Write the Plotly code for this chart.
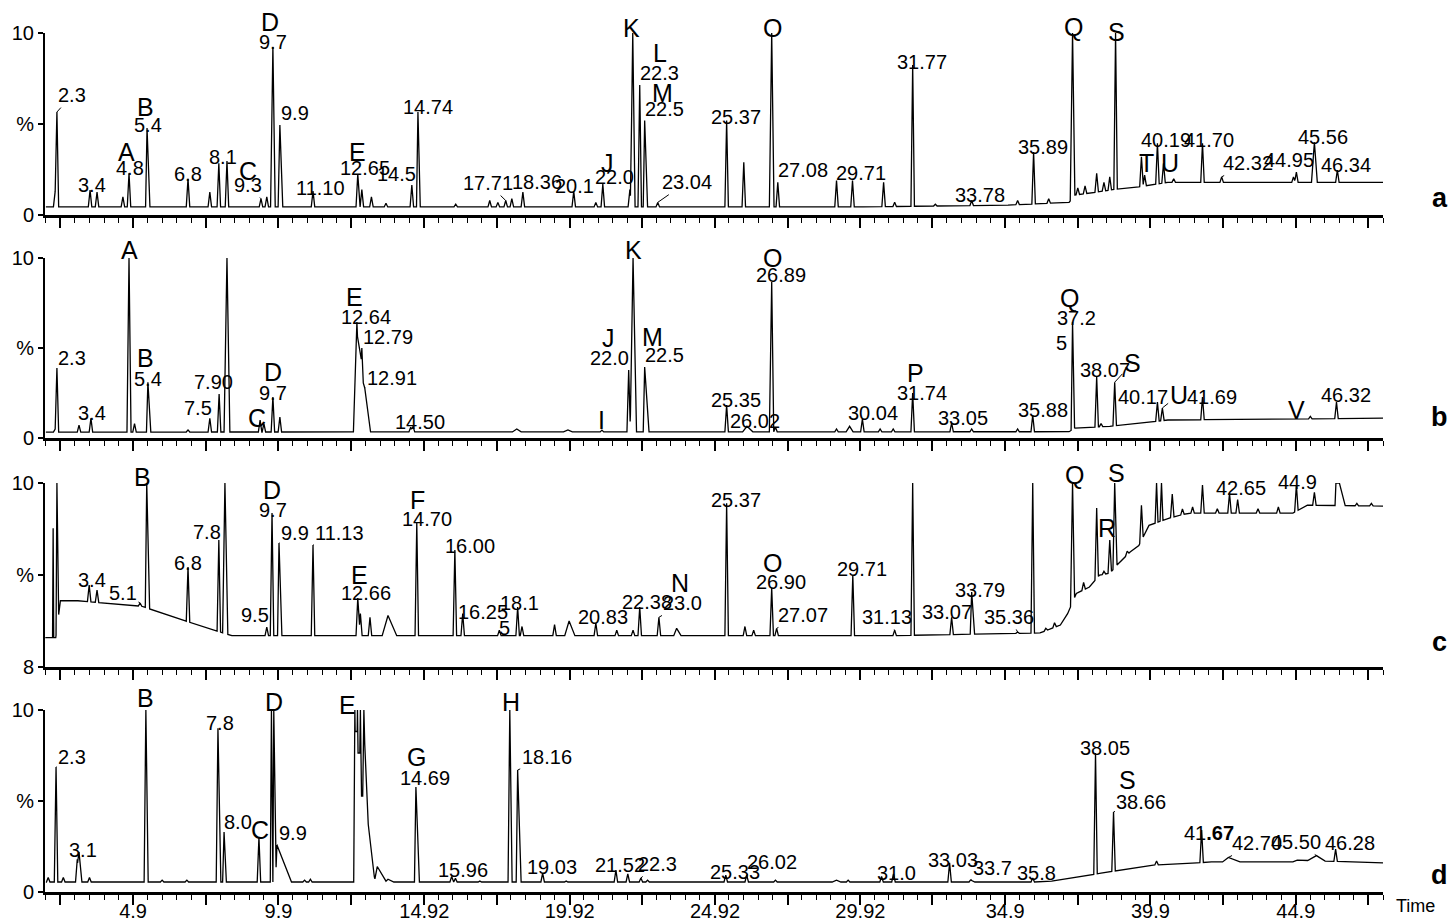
import numpy as np
import plotly.graph_objects as go

# ---------------- data (retention time in min, relative intensity in %) ----------------
TICK_VALS = [2.4, 4.9, 7.4, 9.9, 12.4, 14.92, 17.42, 19.92, 22.42, 24.92, 27.42, 29.92,
             32.4, 34.9, 37.4, 39.9, 42.4, 44.9, 47.4]
TICK_TEXT = ["", "4.9", "", "9.9", "", "14.92", "", "19.92", "", "24.92", "", "29.92",
             "", "34.9", "", "39.9", "", "44.9", ""]
PANELS = ["a", "b", "c", "d"]
Y_TICK_TEXT = {"a": ["0", "%", "10"], "b": ["0", "%", "10"], "c": ["8", "%", "10"], "d": ["0", "%", "10"]}

# baseline anchors (time, level)
BASE_A = [(1.9, 4.5), (30.0, 4.5), (35.0, 5.5), (37.1, 7.0), (37.3, 11.0), (38.0, 12.5),
          (38.6, 14.0), (39.5, 15.5), (40.5, 18.0), (47.9, 18.0)]
BASE_B = [(1.9, 3.3), (37.1, 3.5), (37.3, 5.5), (38.5, 6.5), (40.5, 10.0), (47.9, 11.0)]
BASE_C = [(1.88, 16.0), (2.24, 16.0), (2.4, 36.0), (3.0, 36.0), (5.2, 33.0), (6.7, 25.0),
          (8.3, 17.0), (31.0, 17.0), (36.1, 18.5), (36.8, 22.8), (37.05, 29.0), (37.35, 40.0),
          (37.8, 43.5), (38.15, 50.0), (38.5, 51.0), (38.84, 57.0), (39.2, 62.5), (39.5, 66.0),
          (39.85, 77.0), (40.55, 81.0), (41.2, 83.7), (44.8, 83.7), (45.3, 88.0), (47.9, 87.5)]
BASE_D = [(1.9, 5.5), (35.9, 5.5), (36.5, 6.0), (37.2, 7.7), (37.9, 9.5), (38.2, 10.4),
          (40.0, 14.8), (41.5, 16.0), (42.0, 16.5), (44.8, 16.5), (44.95, 17.5), (47.9, 16.0)]

# peaks (time, apex, [left half-width, right half-width])
PEAKS_A = [(2.22, 13), (2.28, 56.6), (3.42, 13.7), (3.66, 12.6), (4.55, 10), (4.76, 23),
           (5.38, 47.8, 0.05, 0.1), (6.79, 20), (7.54, 12.6), (7.85, 28.5), (8.13, 29.7),
           (9.3, 9), (9.5, 10), (9.71, 92.3, 0.08, 0.08), (9.95, 49.5, 0.06, 0.1), (11.09, 13.2),
           (12.63, 22.5), (12.77, 14), (13.1, 10), (13.6, 6.5), (14.49, 16.5),
           (14.70, 56.6, 0.05, 0.08), (16.0, 6), (17.17, 8), (17.45, 7), (17.72, 8), (17.93, 9),
           (18.31, 12.6), (20.06, 13), (20.82, 7), (21.06, 17), (21.99, 13.7),
           (22.09, 100, 0.08, 0.08), (22.33, 71.4), (22.5, 52, 0.05, 0.1), (22.95, 7),
           (25.32, 52), (25.91, 29), (26.87, 100, 0.08, 0.08), (27.08, 18), (29.1, 19),
           (29.65, 19), (30.72, 18), (31.1, 7), (31.72, 82.4), (32.5, 6), (33.75, 8), (35.33, 8),
           (35.88, 34.6), (36.4, 9), (37.22, 100, 0.08, 0.08), (37.4, 15), (37.65, 16),
           (38.05, 23), (38.3, 18), (38.5, 21), (38.7, 100, 0.06, 0.06), (39.59, 32), (39.7, 22),
           (40.14, 39.5), (40.35, 28.5), (40.7, 20), (41.69, 39.5), (42.35, 21), (44.82, 21),
           (44.92, 23.6), (45.54, 40, 0.1, 0.1), (46.33, 24.7)]
PEAKS_B = [(2.22, 5), (2.28, 38.9), (3.04, 7.2), (3.45, 11), (4.76, 100, 0.07, 0.07), (4.95, 8),
           (5.41, 31, 0.05, 0.1), (6.79, 4.5), (7.54, 11), (7.86, 24.4), (8.13, 100, 0.1, 0.1),
           (9.27, 10), (9.4, 8), (9.71, 22.8), (9.95, 11.7), (12.6, 64.5, 0.12, 0.15),
           (12.77, 50, 0.15, 0.12), (12.87, 27.8, 0.05, 0.2), (14.45, 6), (14.53, 6.5),
           (18.1, 5, 0.15, 0.15), (19.86, 4.5, 0.15, 0.15), (21.03, 4.4), (21.95, 37.8),
           (22.1, 100, 0.1, 0.12), (22.5, 39.4, 0.05, 0.15), (25.32, 18.3), (26.02, 6.5, 0.15, 0.2),
           (26.87, 86.7, 0.08, 0.06), (27.0, 6), (29.1, 5), (29.55, 6.5, 0.12, 0.12),
           (29.99, 10.5), (30.6, 5), (31.05, 5), (31.72, 25), (33.06, 8.3), (33.75, 5),
           (35.33, 5), (35.85, 12.8), (37.22, 64.5, 0.05, 0.07), (38.05, 34), (38.2, 8),
           (38.67, 31), (40.14, 20), (40.31, 16.7), (41.69, 22.8), (45.4, 12), (46.3, 20)]
PEAKS_C = [(2.15, 75.5, 0.02, 0.02), (2.28, 100, 0.03, 0.06), (3.39, 44.6), (3.66, 41.8),
           (5.14, 34.8), (5.37, 100, 0.05, 0.1), (6.79, 54.3), (7.85, 69), (8.06, 100, 0.08, 0.1),
           (9.5, 21.7), (9.68, 83.7), (9.92, 67.4, 0.05, 0.1), (11.09, 66.3), (12.63, 37.5),
           (12.72, 29), (13.05, 27), (13.67, 28, 0.2, 0.3), (14.66, 78.3), (15.97, 63.6),
           (16.24, 29), (17.5, 20), (18.13, 32.6), (18.28, 22), (19.4, 23), (19.9, 25, 0.15, 0.2),
           (20.82, 23.9), (21.54, 20), (22.1, 20), (22.33, 32.6), (22.99, 27), (23.6, 21, 0.1, 0.15),
           (25.32, 89), (25.95, 22), (26.25, 20), (26.87, 43), (27.04, 21), (29.66, 50),
           (31.1, 20), (31.72, 100, 0.06, 0.06), (33.06, 27), (33.75, 40.8, 0.05, 0.1),
           (35.33, 19), (35.85, 100, 0.06, 0.06), (36.3, 21), (36.6, 24), (37.22, 100, 0.07, 0.07),
           (37.6, 46), (38.05, 86.4), (38.3, 52), (38.5, 69), (38.67, 100, 0.06, 0.08),
           (39.1, 63), (39.59, 88), (40.11, 100, 0.05, 0.05), (40.28, 100, 0.05, 0.05),
           (40.65, 94), (41.0, 86), (41.35, 87), (41.69, 99), (42.2, 86), (42.62, 94.5),
           (42.9, 91), (43.6, 86), (44.3, 87), (44.92, 99), (45.54, 95), (46.28, 100, 0.03, 0.15),
           (46.4, 100, 0.12, 0.2), (47.0, 89), (47.5, 89)]
PEAKS_D = [(1.98, 8), (2.25, 68.7), (2.5, 8), (2.98, 18), (3.04, 22, 0.05, 0.1), (3.4, 8),
           (5.34, 100, 0.06, 0.08), (5.9, 6.5), (6.75, 6.5), (7.82, 90, 0.06, 0.1),
           (8.03, 33, 0.05, 0.08), (9.23, 30, 0.06, 0.06), (9.66, 100, 0.04, 0.03),
           (9.74, 100, 0.03, 0.08), (9.85, 25.8, 0.05, 0.5), (10.8, 6.5), (11.0, 7),
           (12.53, 100, 0.04, 0.08), (12.62, 100, 0.08, 0.08), (12.72, 100, 0.08, 0.08),
           (12.84, 100, 0.08, 0.15), (12.97, 40, 0.1, 0.25), (13.3, 14, 0.1, 0.3),
           (13.67, 7, 0.1, 0.2), (14.63, 57.7, 0.05, 0.12), (15.86, 8.5), (15.99, 7.5),
           (16.83, 6), (17.86, 100, 0.06, 0.08), (18.13, 67, 0.05, 0.12), (18.99, 10.4),
           (19.8, 6), (21.51, 12), (21.92, 10), (22.37, 7.7), (22.6, 6.5), (25.29, 9.3),
           (26.01, 9.3), (27.0, 6.5), (29.1, 6.5, 0.15, 0.15), (29.5, 6.5), (30.65, 8.5),
           (31.06, 10), (32.99, 16), (33.71, 6.6, 0.05, 0.15), (35.85, 7.7), (38.01, 76.4),
           (38.63, 44), (40.11, 17), (41.66, 34), (42.58, 19, 0.2, 0.4), (45.61, 20, 0.3, 0.3),
           (46.27, 23.6)]

# peak labels: (text, label time, label level[, leader-to time, leader-to level])
LABELS_A = [("2.3", 2.8, 65.9, 2.28, 56.6), ("3.4", 3.49, 16.5), ("A", 4.69, 34.6), ("4.8", 4.79, 25.8),
            ("B", 5.34, 59.3), ("5.4", 5.41, 49.5), ("6.8", 6.79, 22.5), ("8.1", 7.99, 31.9),
            ("C", 8.85, 24.2), ("9.3", 8.85, 16.5, 9.3, 9), ("D", 9.61, 106), ("9.7", 9.71, 95),
            ("9.9", 10.47, 56, 9.95, 49.5), ("11.10", 11.36, 14.8), ("E", 12.63, 34.6),
            ("12.65", 12.87, 25.8), ("14.5", 13.97, 22.5, 14.49, 16.5), ("14.74", 15.04, 59.3),
            ("17.71", 17.1, 17.6, 17.72, 8), ("18.36", 18.79, 18.1), ("20.1", 20.1, 16),
            ("J", 21.23, 28.6), ("22.0", 21.47, 20.9, 21.99, 13.7), ("K", 22.06, 103),
            ("L", 23.02, 89), ("22.3", 23.02, 78, 22.33, 71.4), ("M", 23.12, 67),
            ("22.5", 23.19, 58.2, 22.5, 52), ("23.04", 23.95, 18.1, 22.95, 7), ("25.37", 25.63, 53.8),
            ("O", 26.9, 102.7), ("27.08", 27.94, 24.7, 27.08, 18), ("29.71", 29.93, 23),
            ("31.77", 32.03, 84), ("33.78", 34.02, 11), ("35.89", 36.19, 37.4), ("Q", 37.25, 103.3),
            ("S", 38.73, 100.5), ("T", 39.76, 28.6), ("U", 40.56, 28.6), ("40.19", 40.45, 41.2),
            ("41.70", 41.93, 41.2), ("42.32", 43.24, 28.6, 42.35, 21), ("44.95", 44.68, 30.2, 44.92, 23.6),
            ("45.56", 45.85, 42.9), ("46.34", 46.64, 27.5)]
LABELS_B = [("2.3", 2.8, 44.4, 2.28, 38.9), ("3.4", 3.49, 13.9), ("A", 4.76, 104.4), ("B", 5.34, 44.4),
            ("5.4", 5.41, 32.8), ("7.5", 7.13, 16.7, 7.54, 11), ("7.90", 7.65, 31.1), ("C", 9.16, 11.1),
            ("D", 9.71, 36.7), ("9.7", 9.71, 25), ("E", 12.53, 78.3), ("12.64", 12.91, 67.2),
            ("12.79", 13.67, 56.1, 12.77, 50), ("12.91", 13.8, 33.3, 12.87, 27.8), ("14.50", 14.77, 8.9),
            ("I", 21.02, 10), ("J", 21.26, 55.6), ("22.0", 21.3, 44.4, 21.95, 37.8), ("K", 22.12, 104.4),
            ("M", 22.78, 56.1), ("22.5", 23.19, 46.1, 22.5, 39.4), ("25.35", 25.63, 21.1),
            ("26.02", 26.28, 9.4), ("O", 26.9, 100), ("26.89", 27.18, 90.6), ("30.04", 30.34, 13.9),
            ("P", 31.82, 36.1), ("31.74", 32.03, 25), ("33.05", 33.44, 11.1), ("35.88", 36.19, 15.6),
            ("Q", 37.12, 77.8), ("37.2", 37.36, 66.7), ("5", 36.84, 52.8), ("38.07", 38.32, 37.8),
            ("S", 39.28, 41.7, 38.67, 31), ("40.17", 39.66, 22.8), ("U", 40.87, 23.9, 40.31, 16.7),
            ("41.69", 42.0, 22.8), ("V", 44.92, 15.6), ("46.32", 46.61, 23.9)]
LABELS_C = [("3.4", 3.49, 47.3), ("5.1", 4.55, 40.2, 5.14, 34.8), ("B", 5.24, 103.3), ("6.8", 6.79, 56.5),
            ("7.8", 7.44, 73.4), ("9.5", 9.09, 28.3, 9.5, 21.7), ("D", 9.68, 96.2), ("9.7", 9.71, 85.3),
            ("9.9", 10.47, 72.8, 9.92, 67.4), ("11.13", 12.01, 72.8, 11.09, 66.3), ("E", 12.7, 50),
            ("12.66", 12.91, 40.2), ("F", 14.7, 90.8), ("14.70", 15.01, 80.4), ("16.00", 16.49, 65.8),
            ("16.25", 16.93, 29.9, 16.24, 29), ("18.1", 18.2, 34.8), ("5", 17.69, 21.2),
            ("20.83", 21.06, 27.2), ("22.38", 22.57, 35.3), ("N", 23.71, 45.7),
            ("23.0", 23.81, 34.8, 22.99, 27), ("25.37", 25.63, 90.8), ("O", 26.9, 56.5),
            ("26.90", 27.18, 46.2), ("27.07", 27.94, 28.3, 27.04, 21), ("29.71", 29.97, 53.3),
            ("31.13", 30.83, 27.2, 31.1, 20), ("33.07", 32.89, 29.9), ("33.79", 34.02, 41.8),
            ("35.36", 35.05, 27.2, 35.33, 19), ("Q", 37.29, 104.3), ("R", 38.42, 75.5),
            ("S", 38.73, 105.4), ("42.65", 43.03, 97.3), ("44.9", 44.96, 100.5)]
LABELS_D = [("2.3", 2.8, 74.2, 2.25, 68.7), ("3.1", 3.18, 23.1), ("B", 5.34, 106.6), ("7.8", 7.89, 92.9),
            ("8.0", 8.51, 38.5, 8.03, 33), ("C", 9.26, 34.1), ("D", 9.74, 104.4),
            ("9.9", 10.4, 32.4, 9.85, 25.8), ("E", 12.29, 102.7), ("G", 14.66, 74.2),
            ("14.69", 14.94, 62.6), ("15.96", 16.24, 12.1), ("H", 17.89, 104.4),
            ("18.16", 19.13, 74.2, 18.13, 67), ("19.03", 19.3, 13.7), ("21.52", 21.64, 14.8),
            ("22.3", 22.95, 15.4, 22.37, 7.7), ("25.33", 25.6, 11), ("26.02", 26.87, 16.5, 26.01, 9.3),
            ("31.0", 31.17, 10.4), ("33.03", 33.09, 17.6), ("33.7", 34.47, 13.2, 33.71, 6.6),
            ("35.8", 35.98, 10.4), ("38.05", 38.32, 79.1), ("S", 39.11, 61.5),
            ("38.66", 39.59, 49.5, 38.63, 44), ("41<b>.67</b>", 41.93, 32.4),
            ("42.70", 43.55, 26.9, 42.58, 19), ("45.50", 44.92, 27.5, 45.61, 20), ("46.28", 46.75, 26.9)]

BASES = {"a": BASE_A, "b": BASE_B, "c": BASE_C, "d": BASE_D}
PEAKS = {"a": PEAKS_A, "b": PEAKS_B, "c": PEAKS_C, "d": PEAKS_D}
LABELS = {"a": LABELS_A, "b": LABELS_B, "c": LABELS_C, "d": LABELS_D}

# ---------------- build polylines from baseline anchors + peak apexes ----------------
DEFAULT_W = 0.06
Y_MAX = 100.0


def build_trace(base, peaks):
    bt = np.array([b[0] for b in base])
    bv = np.array([b[1] for b in base])
    specs = []
    times = set(bt.tolist())
    for p in peaks:
        t, h = p[0], p[1]
        wl = p[2] if len(p) > 2 else DEFAULT_W
        wr = p[3] if len(p) > 3 else wl
        specs.append((t, h, wl, wr))
        times.update([t - wl, t, t + wr])
    ts = np.array(sorted(s for s in times if bt[0] <= s <= bt[-1]))
    vals = np.interp(ts, bt, bv)
    for (t, h, wl, wr) in specs:
        rise = h - np.interp(t, bt, bv)
        frac = np.where(ts <= t, 1 - (t - ts) / wl, 1 - (ts - t) / wr)
        frac = np.clip(frac, 0, 1)
        cand = np.interp(ts, bt, bv) + rise * frac
        vals = np.maximum(vals, np.where(frac > 0, cand, -1))
    return ts, vals


# ---------------- figure ----------------
FONT = "Liberation Sans, Arial, sans-serif"
DOMAINS = {"a": [0.788, 1.0], "b": [0.5285, 0.738], "c": [0.262, 0.476], "d": [0.0, 0.2119]}
LETTER_Y = {"a": 0.808, "b": 0.553, "c": 0.291, "d": 0.020}

fig = go.Figure()
layout = {}
annotations = []
for i, key in enumerate(PANELS, start=1):
    xs, ys = build_trace(BASES[key], PEAKS[key])
    sfx = "" if i == 1 else str(i)
    fig.add_trace(go.Scatter(x=xs, y=ys, mode="lines", xaxis="x" + sfx, yaxis="y" + sfx,
                             line=dict(color="black", width=1.3), hoverinfo="skip",
                             showlegend=False))
    layout["xaxis" + sfx] = dict(
        domain=[0, 1], anchor="y" + sfx, range=[1.87, 47.9], showline=True, linewidth=3,
        linecolor="black", ticks="outside", ticklen=10, tickwidth=1.5, tickcolor="black",
        tickvals=TICK_VALS, ticktext=TICK_TEXT if key == "d" else [""] * len(TICK_VALS),
        showgrid=False, zeroline=False, automargin=False, ticklabelstandoff=-11,
        tickfont=dict(family=FONT, size=20, color="black"),
        minor=dict(ticks="outside", ticklen=5, tickwidth=1, tickcolor="black", dtick=0.5,
                   tick0=2.4, showgrid=False))
    layout["yaxis" + sfx] = dict(
        domain=DOMAINS[key], anchor="x" + sfx, range=[0, Y_MAX], showline=True, linewidth=2,
        linecolor="black", ticks="outside", ticklen=5, tickwidth=1.5, tickcolor="black",
        tickvals=[0, 50, 100], ticktext=Y_TICK_TEXT[key], showgrid=False, zeroline=False,
        automargin=False, tickfont=dict(family=FONT, size=20, color="black"))
    xr, yr = "x" + sfx, "y" + sfx + " domain"
    for lab in LABELS[key]:
        text = lab[0]
        is_letter = len(text) == 1 and text.isalpha()
        fnt = dict(family=FONT, size=25 if is_letter else 20, color="black")
        if len(lab) > 3:
            annotations.append(dict(x=lab[3], y=lab[4] / Y_MAX, ax=lab[1], ay=lab[2] / Y_MAX,
                                    axref=xr, ayref=yr, xref=xr, yref=yr, text=text,
                                    xanchor="center", yanchor="middle",
                                    showarrow=True, arrowhead=0, arrowwidth=1,
                                    arrowcolor="black", standoff=0, font=fnt))
        else:
            annotations.append(dict(x=lab[1], y=lab[2] / Y_MAX, xref=xr, yref=yr, text=text,
                                    xanchor="center", yanchor="middle",
                                    showarrow=False, font=fnt))
    annotations.append(dict(x=1.0426, y=LETTER_Y[key], xref="paper", yref="paper",
                            text="<b>%s</b>" % key, showarrow=False,
                            xanchor="center", yanchor="middle",
                            font=dict(family=FONT, size=27, color="black")))

annotations.append(dict(x=1.024, y=-0.016, xref="paper", yref="paper", text="Time",
                        xanchor="center", yanchor="middle",
                        showarrow=False, font=dict(family=FONT, size=18, color="black")))

fig.update_layout(width=1450, height=922, margin=dict(l=45, r=67, t=33, b=30),
                  paper_bgcolor="white", plot_bgcolor="white", annotations=annotations,
                  font=dict(family=FONT, color="black"), **layout)
fig.write_html("out.html", config={"displayModeBar": False},
               post_script="document.body.style.margin='0';")
